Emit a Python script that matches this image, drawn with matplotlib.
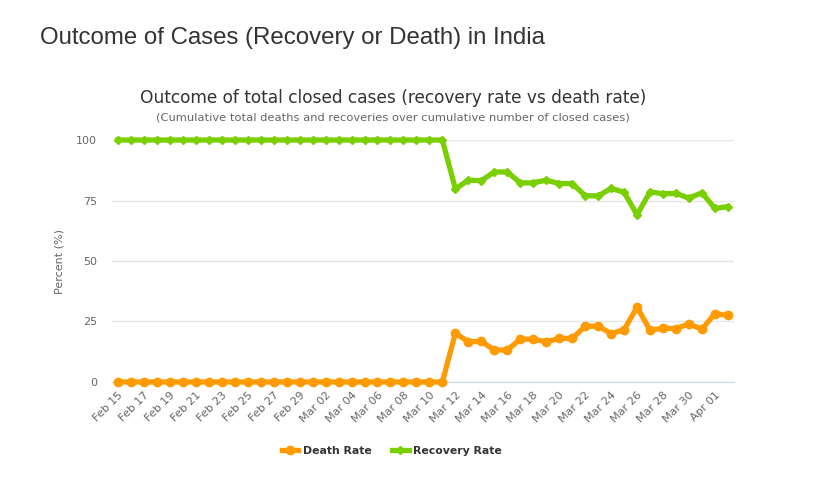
import pandas as pd
import matplotlib.pyplot as plt
from matplotlib.lines import Line2D

# Daily dates Feb 15 .. Apr 02 (2020)
dates = pd.date_range('2020-02-15', '2020-04-02', freq='D')
date_labels = [d.strftime('%b %d') for d in dates]

# Death rate (%) per day
death_rate = [0.0] * 26 + [
    20.2, 16.6, 16.8, 13.2, 13.2, 17.7, 17.7, 16.6, 18.0, 18.0,
    23.0, 23.1, 20.0, 21.6, 30.9, 21.4, 22.2, 22.1, 24.0, 21.8,
    28.3, 27.5,
]

# Recovery rate (%) per day
recovery_rate = [100.0] * 26 + [
    79.8, 83.4, 83.2, 86.8, 86.8, 82.3, 82.3, 83.4, 82.0, 82.0,
    77.0, 76.9, 80.0, 78.4, 69.1, 78.6, 77.8, 77.9, 76.0, 78.2,
    71.7, 72.5,
]

death_color = '#FF9A00'
recovery_color = '#7ACF00'
text_gray = '#666666'

fig = plt.figure(figsize=(8.18, 4.82), dpi=100)
ax = fig.add_axes([0.137, 0.2075, 0.76, 0.502])

x = range(len(dates))
ax.plot(x, death_rate, color=death_color, linewidth=3.8, marker='o',
        markersize=6, clip_on=False, zorder=3, label='Death Rate')
ax.plot(x, recovery_rate, color=recovery_color, linewidth=3.8, marker='D',
        markersize=4.5, clip_on=False, zorder=3, label='Recovery Rate')

ax.set_xlim(-0.45, len(dates) - 0.55)
ax.set_ylim(0, 100)
ax.set_yticks([0, 25, 50, 75, 100])
ax.grid(axis='y', color='#e6e6e6', linewidth=1)
ax.set_axisbelow(True)

ax.set_xticks(list(x)[::2])
ax.set_xticklabels(date_labels[::2], rotation=45, ha='right',
                   rotation_mode='anchor', fontsize=8, color=text_gray)
ax.tick_params(axis='x', length=0, pad=6)
ax.tick_params(axis='y', length=0, labelsize=8, labelcolor=text_gray, pad=11)

for side in ['top', 'right', 'left']:
    ax.spines[side].set_visible(False)
ax.spines['bottom'].set_color('#ccd6eb')
ax.spines['bottom'].set_zorder(2)

ax.set_ylabel('Percent (%)', fontsize=8, color=text_gray, labelpad=8)

# Titles
fig.text(40 / 818, 1 - 38 / 482, 'Outcome of Cases (Recovery or Death) in India',
         fontsize=17.3, color='#333333', family='Liberation Sans', va='center')
fig.text(393 / 818, 1 - 98 / 482,
         'Outcome of total closed cases (recovery rate vs death rate)',
         fontsize=12.25, color='#333333', ha='center', va='center')
fig.text(393 / 818, 1 - 118 / 482,
         '(Cumulative total deaths and recoveries over cumulative number of closed cases)',
         fontsize=8.25, color=text_gray, ha='center', va='center')

handles = [
    Line2D([], [], color=death_color, linewidth=3.8, marker='o', markersize=6),
    Line2D([], [], color=recovery_color, linewidth=3.8, marker='D', markersize=4.5),
]
fig.legend(handles, ['Death Rate', 'Recovery Rate'], loc='center',
           bbox_to_anchor=(392 / 818, 1 - 451 / 482), ncol=2, frameon=False,
           prop={'weight': 'bold', 'size': 7.8}, labelcolor='#333333',
           handlelength=1.5, columnspacing=1.9, handletextpad=0.45)

plt.savefig('out.png', dpi=100)
